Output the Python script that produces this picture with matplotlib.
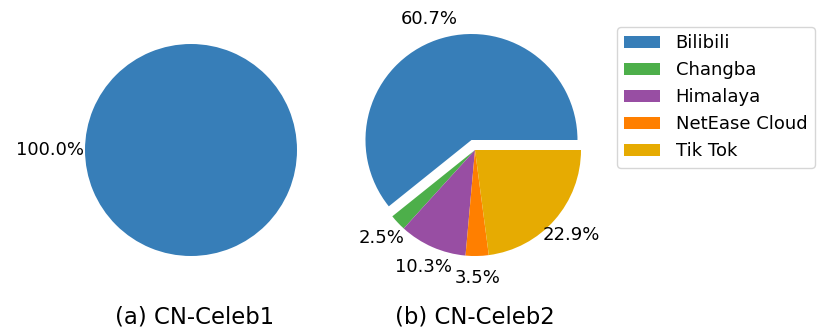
import matplotlib
matplotlib.use('Agg')
import matplotlib.pyplot as plt

# 数据
platforms = ['Bilibili', 'Changba', 'Himalaya', 'NetEase Cloud', 'Tik Tok']
colors = ['#377eb8', '#4daf4a', '#984ea3', '#ff7f00', '#e6ab02']
celeb1_share = [100.0]
celeb2_share = [60.7, 2.5, 10.3, 3.5, 22.9]
titles = ['(a) CN-Celeb1', '(b) CN-Celeb2']

W, H = 831, 336
fig = plt.figure(figsize=(W / 100, H / 100), dpi=100)

# 左图
ax1 = fig.add_axes([58.5 / W, 53.5 / H, 265 / W, 265 / H])
ax1.pie(celeb1_share, colors=colors[:1], autopct='%1.1f%%', pctdistance=1.33,
        startangle=0, textprops={'fontsize': 13})
ax1.set_xlim(-1.25, 1.25)
ax1.set_ylim(-1.25, 1.25)
ax1.set_aspect('equal')

# 右图
ax2 = fig.add_axes([342.5 / W, 53.5 / H, 265 / W, 265 / H])
wedges, _, autotexts = ax2.pie(celeb2_share, colors=colors, autopct='%1.1f%%',
                               pctdistance=1.21, explode=[0.1, 0, 0, 0, 0],
                               startangle=0, textprops={'fontsize': 13})
# 百分比直接用原始数值（总和不是100）
for t, v in zip(autotexts, celeb2_share):
    t.set_text(f'{v:.1f}%')
ax2.set_xlim(-1.25, 1.25)
ax2.set_ylim(-1.25, 1.25)
ax2.set_aspect('equal')

fig.text(195 / W, 1 - 317 / H, titles[0], ha='center', va='center', fontsize=16.4)
fig.text(475 / W, 1 - 317 / H, titles[1], ha='center', va='center', fontsize=16.4)

fig.legend(wedges, platforms, loc='upper left', bbox_to_anchor=(617 / W, 1 - 27 / H),
           fontsize=13, handlelength=2.0, handleheight=0.7, handletextpad=0.85,
           labelspacing=0.5, borderaxespad=0)

fig.savefig('out.png', dpi=100)
